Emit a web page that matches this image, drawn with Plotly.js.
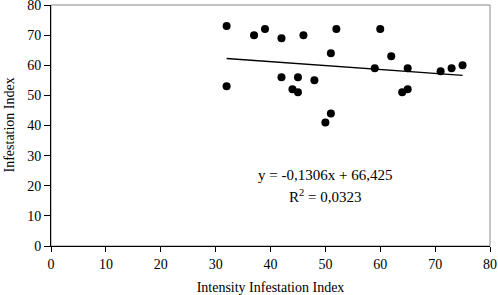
<!DOCTYPE html>
<html>
<head>
<meta charset="utf-8">
<script src="https://cdn.plot.ly/plotly-3.0.1.min.js"></script>
<style>html,body{margin:0;padding:0;background:#fff;}#chart{width:498px;height:295px;}</style>
</head>
<body>
<div id="chart"></div>
<script>
// Data
var intensityIndex = [32, 32, 37, 39, 42, 46, 52, 60, 51, 62, 59, 65, 71, 73, 75, 42, 45, 48, 44, 45, 51, 50, 64, 65];
var infestationIndex = [73, 53, 70, 72, 69, 70, 72, 72, 64, 63, 59, 59, 58, 59, 60, 56, 56, 55, 52, 51, 44, 41, 51, 52];
var slope = -0.1306;
var intercept = 66.425;
var rSquared = "0,0323";
var xTicks = [0, 10, 20, 30, 40, 50, 60, 70, 80];
var yTicks = [0, 10, 20, 30, 40, 50, 60, 70, 80];

var xMin = Math.min.apply(null, intensityIndex);
var xMax = Math.max.apply(null, intensityIndex);
var trendX = [xMin, xMax];
var trendY = trendX.map(function (x) { return slope * x + intercept; });

var font = {family: '"Liberation Serif", "Times New Roman", serif', size: 14, color: '#000'};
var eqFont = {family: '"Liberation Serif", "Times New Roman", serif', size: 15, color: '#000'};

var traces = [
  {x: trendX, y: trendY, type: 'scatter', mode: 'lines', line: {color: '#000', width: 1.3}, hoverinfo: 'skip'},
  {x: intensityIndex, y: infestationIndex, type: 'scatter', mode: 'markers', marker: {color: '#000', size: 8}}
];

var layout = {
  width: 498, height: 295,
  margin: {l: 51, r: 8, t: 5, b: 49},
  paper_bgcolor: '#fff', plot_bgcolor: '#fff',
  showlegend: false,
  font: font,
  xaxis: {
    range: [0, 80], tickvals: xTicks, ticktext: xTicks.map(String),
    showgrid: false, zeroline: false, showline: true, linecolor: '#000', linewidth: 1,
    ticks: 'outside', ticklen: 5, tickcolor: '#000', tickfont: font,
    ticklabeloverflow: 'allow',
    title: {text: 'Intensity Infestation Index', font: font}
  },
  yaxis: {
    range: [0, 80], tickvals: yTicks, ticktext: yTicks.map(String),
    showgrid: false, zeroline: false, showline: true, linecolor: '#000', linewidth: 1,
    ticks: 'outside', ticklen: 6, tickcolor: '#000', tickfont: font,
    ticklabeloverflow: 'allow'
  },
  shapes: [
    {type: 'rect', xref: 'paper', yref: 'paper', x0: 0, x1: 1, y0: 0, y1: 1, line: {color: '#888', width: 1}, layer: 'below'}
  ],
  annotations: [
    {x: 0, y: 0.5, xref: 'paper', yref: 'paper', xanchor: 'center', yanchor: 'middle', xshift: -42,
     textangle: -90, text: 'Infestation Index', showarrow: false, font: font},
    {x: 50, y: 23.5, xref: 'x', yref: 'y', text: 'y = -0,1306x + 66,425', showarrow: false, font: eqFont},
    {x: 50, y: 16.5, xref: 'x', yref: 'y', text: 'R<sup>2</sup> = ' + rSquared, showarrow: false, font: eqFont}
  ]
};

Plotly.newPlot('chart', traces, layout, {displayModeBar: false, staticPlot: true});
</script>
</body>
</html>
